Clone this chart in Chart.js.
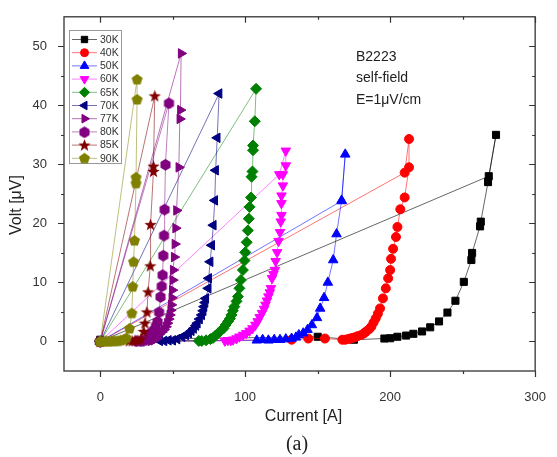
<!DOCTYPE html>
<html>
<head>
<meta charset="utf-8">
<script src="https://cdn.jsdelivr.net/npm/chart.js@4.4.0/dist/chart.umd.min.js"></script>
<style>
  html, body { margin: 0; padding: 0; background: #fff; }
  #wrap { width: 557px; height: 457px; }
</style>
</head>
<body>
<div id="wrap"><canvas id="ivChart" width="557" height="457"></canvas></div>
<script>
// temperatures (legend)
const temps = ['30K', '40K', '50K', '60K', '65K', '70K', '77K', '80K', '85K', '90K'];

// current [A] / voltage [uV] per temperature
const cur30 = [0, 150, 175, 196, 200, 205, 211, 216, 222, 227.6, 233.7, 239.5, 245, 250.8, 256, 256.5, 262, 262.5, 267.5, 273, 268, 0];
const volt30 = [0.3, 0.8, 0.3, 0.5, 0.55, 0.8, 1, 1.3, 1.7, 2.4, 3.4, 4.9, 6.9, 10.1, 13.8, 15, 19.5, 20.3, 27, 35, 28, 0];

const cur40 = [0, 132, 143.5, 155, 167, 169, 171, 172.5, 174, 175.5, 177.5, 180, 182, 183.5, 185.5, 187, 188.5, 190, 191.5, 193, 195, 197, 198.6, 200, 200.6, 202, 204, 205, 207, 210, 213, 213, 210, 0];
const volt40 = [0, 0.3, 0.5, 0.5, 0.3, 0.3, 0.4, 0.5, 0.6, 0.7, 0.9, 1.1, 1.4, 1.7, 2.1, 2.5, 3.2, 3.9, 4.7, 5.6, 7.3, 9, 10.7, 12.1, 14, 15.7, 17.7, 19.4, 22.4, 24.4, 29.5, 34.3, 28.6, 0];

const cur50 = [0, 108, 112, 116, 120, 124, 128, 132, 135, 137, 140, 143, 146, 149.5, 151.7, 154.4, 157, 160.7, 163, 166.5, 169, 166.5, 0];
const volt50 = [0, 0.2, 0.3, 0.2, 0.3, 0.3, 0.4, 0.5, 0.7, 1.1, 1.4, 2, 2.8, 4, 5.6, 7.4, 10, 13.8, 18.2, 23.9, 31.7, 23.8, 0];

const cur60 = [0, 86, 88, 90, 91.6, 94, 96, 98.5, 100.7, 103, 105, 107, 108.6, 110, 111.6, 113, 114, 115, 116, 117, 117.7, 118.5, 119.5, 120.5, 121, 122, 123, 124, 124.5, 125, 125, 125, 126, 126, 128, 128, 123.5, 0];
const volt60 = [0, 0.1, 0.2, 0.2, 0.3, 0.5, 0.8, 1.1, 1.4, 1.8, 2.2, 2.8, 3.4, 4.1, 4.8, 5.5, 6.2, 6.9, 7.6, 8.3, 9, 10.7, 11.4, 12.1, 13.6, 15.1, 17, 18.5, 20.3, 21.4, 23.4, 24.7, 26.4, 28.3, 29.8, 32.3, 28.3, 0];

const cur65 = [0, 68, 70, 73, 76, 77.8, 79.5, 81.4, 83, 85, 86.5, 88.2, 89.5, 90.5, 91.5, 92.5, 94, 95, 96, 97, 98.4, 99.5, 100, 101, 101.8, 102.5, 103, 104, 104.4, 105, 105.4, 105.4, 106.6, 107.5, 0];
const volt65 = [0, 0.1, 0.1, 0.2, 0.4, 0.6, 1, 1.4, 1.8, 2.2, 2.8, 3.4, 3.9, 4.5, 5.2, 5.9, 6.8, 7.6, 9, 10.4, 12.1, 13.7, 15.1, 16.8, 18.8, 20.8, 22.8, 24.4, 27.9, 28.8, 32.4, 33.2, 37.3, 42.8, 0];

const cur70 = [0, 41, 44, 47, 50, 53, 56.5, 59, 61, 62.8, 64.4, 66, 67, 68.5, 70, 71, 71.6, 72.3, 72.8, 74.5, 74.8, 75.8, 76.9, 78, 79, 79.6, 80.7, 82, 0];
const volt70 = [0, 0.1, 0.1, 0.2, 0.2, 0.4, 0.8, 1.1, 1.4, 1.8, 2.2, 2.7, 3.1, 3.8, 4.5, 5.2, 5.9, 6.6, 7.3, 9, 10.7, 13.5, 16.3, 19.7, 23.9, 29, 34.5, 42, 0];

const cur77 = [0, 35, 37, 39, 40.6, 42.5, 44, 45.3, 46.3, 47.2, 48, 48.6, 49, 49.4, 49.7, 50, 50.3, 51, 51.5, 52, 52.6, 54.2, 54.9, 55.3, 55.8, 0];
const volt77 = [0, 0.1, 0.2, 0.5, 1.2, 1.6, 2, 2.5, 3.1, 3.8, 4.5, 5.3, 6.2, 7.4, 8.7, 10.4, 12.1, 14.3, 16.5, 19.2, 22.2, 29.5, 37.7, 39.2, 48.8, 0];

const cur80 = [0, 25, 28, 30, 32, 33.8, 35.5, 37.2, 38.5, 39.5, 40.6, 41.6, 42.4, 43, 43.5, 44, 44.4, 45, 47.4, 0];
const volt80 = [0, 0.1, 0.1, 0.2, 0.4, 1.2, 1.6, 2, 2.7, 3.4, 5, 7.6, 9.4, 11.3, 14.6, 18, 22.4, 30, 40.4, 0];

const cur85 = [0, 20, 22, 24, 26, 28, 30, 30.8, 32.2, 33, 34.5, 34.7, 36.7, 36.7, 37.6, 0];
const volt85 = [0, 0.1, 0.1, 0.2, 0.2, 0.4, 1.7, 3.1, 5, 8.4, 12.8, 19.8, 28.8, 29.7, 41.6, 0];

const cur90 = [0, 2, 4, 6, 8, 10, 12, 14, 16, 18, 20.2, 21.8, 22.4, 23, 23.6, 24.7, 24.7, 25.4, 25.4, 0];
const volt90 = [0, 0, 0.1, 0, 0.1, 0.1, 0.1, 0.2, 0.3, 0.6, 2.2, 4.8, 9.3, 13.5, 17.1, 26.8, 27.8, 41, 44.4, 0];

// axis ticks
const xMajor = [0, 100, 200, 300];
const xMinor = [50, 150, 250];
const yMajor = [0, 10, 20, 30, 40, 50];
const yMinor = [5, 15, 25, 35, 45];

const currents = [cur30, cur40, cur50, cur60, cur65, cur70, cur77, cur80, cur85, cur90];
const volts = [volt30, volt40, volt50, volt60, volt65, volt70, volt77, volt80, volt85, volt90];

// filled shapes chart.js doesn't have
function makeShape(color, kind) {
  const c = document.createElement('canvas');
  c.width = 13; c.height = 13;
  const g = c.getContext('2d');
  g.fillStyle = color;
  g.beginPath();
  const n = kind === 'star' ? 10 : (kind === 'pent' ? 5 : 6);
  for (let k = 0; k < n; k++) {
    const a = -Math.PI / 2 + k * 2 * Math.PI / n;
    const r = kind === 'star' ? (k % 2 ? 2.7 : 6.5) : 5.8;
    g.lineTo(6.5 + r * Math.cos(a), 6.9 + r * Math.sin(a));
  }
  g.closePath();
  g.fill();
  return c;
}

const colors = ['#000000', '#ff0000', '#0000ff', '#ff00ff', '#008000', '#000080', '#800080', '#800080', '#800000', '#808000'];
const lineColors = ['rgba(0,0,0,0.6)', 'rgba(255,0,0,0.55)', 'rgba(0,0,255,0.55)', 'rgba(255,0,255,0.5)', 'rgba(0,128,0,0.5)',
                    'rgba(0,0,128,0.55)', 'rgba(128,0,128,0.55)', 'rgba(128,0,128,0.5)', 'rgba(128,0,0,0.55)', 'rgba(128,128,0,0.5)'];
const styles = ['rect', 'circle', 'triangle', 'triangle', 'rectRot', 'triangle', 'triangle',
                makeShape('#800080', 'hex'), makeShape('#800000', 'star'), makeShape('#808000', 'pent')];
const rotations = [0, 0, 0, 180, 0, 270, 90, 0, 0, 0];
const radii = [5, 4.5, 5.5, 5.5, 5.5, 5.5, 5.5, 5.5, 5.5, 5.5];

const datasets = temps.map((t, i) => ({
  label: t,
  data: currents[i].map((x, k) => ({ x: x, y: volts[i][k] })),
  showLine: true,
  borderColor: lineColors[i],
  borderWidth: 1,
  backgroundColor: colors[i],
  pointBackgroundColor: colors[i],
  pointBorderColor: colors[i],
  pointBorderWidth: 1,
  pointStyle: styles[i],
  pointRotation: rotations[i],
  pointRadius: radii[i],
  order: temps.length - i
}));

const font = "'Liberation Sans', Arial, sans-serif";

const framePlugin = {
  id: 'frame',
  afterDatasetsDraw(chart) {
    const { ctx, chartArea: a, scales } = chart;
    ctx.save();
    ctx.strokeStyle = '#333';
    ctx.lineWidth = 1.3;
    ctx.strokeRect(a.left, a.top, a.right - a.left, a.bottom - a.top);
    ctx.lineWidth = 1.2;
    ctx.beginPath();
    const tick = (vals, len) => {
      vals.forEach(v => {
        const px = Math.round(scales.x.getPixelForValue(v)) + 0.5;
        ctx.moveTo(px, a.bottom); ctx.lineTo(px, a.bottom + len);
        ctx.moveTo(px, a.top); ctx.lineTo(px, a.top + len);
      });
    };
    const ytick = (vals, len) => {
      vals.forEach(v => {
        const py = Math.round(scales.y.getPixelForValue(v)) + 0.5;
        ctx.moveTo(a.left, py); ctx.lineTo(a.left - len, py);
        ctx.moveTo(a.right, py); ctx.lineTo(a.right - len, py);
      });
    };
    tick(xMajor, 6); tick(xMinor, 3);
    ytick(yMajor, 6); ytick(yMinor, 3);
    ctx.stroke();

    // legend box
    ctx.fillStyle = '#fff';
    ctx.strokeStyle = '#999';
    ctx.lineWidth = 1;
    ctx.fillRect(69.5, 30.5, 52, 133);
    ctx.strokeRect(69.5, 30.5, 52, 133);
    chart.data.datasets.forEach((ds, i) => {
      const y = 39.5 + i * 13.2;
      ctx.strokeStyle = ds.borderColor;
      ctx.beginPath();
      ctx.moveTo(72, y); ctx.lineTo(97, y);
      ctx.stroke();
      ctx.fillStyle = ds.pointBackgroundColor;
      ctx.strokeStyle = ds.pointBorderColor;
      Chart.helpers.drawPoint(ctx, { pointStyle: ds.pointStyle, rotation: ds.pointRotation, radius: ds.pointRadius - 0.5, borderWidth: 1 }, 84.5, y);
      ctx.fillStyle = '#333';
      ctx.font = '10.5px ' + font;
      ctx.textAlign = 'left';
      ctx.textBaseline = 'middle';
      ctx.fillText(ds.label, 100, y + 0.5);
    });
    ctx.restore();
  },
  afterDraw(chart) {
    const ctx = chart.ctx;
    ctx.save();
    ctx.fillStyle = '#222';
    ctx.textBaseline = 'middle';
    ctx.textAlign = 'left';
    ctx.font = '14px ' + font;
    ctx.fillText('B2223', 356, 57);
    ctx.fillText('self-field', 356, 78.5);
    ctx.fillText('E=1\u03bcV/cm', 356, 100);
    ctx.textAlign = 'center';
    ctx.font = '16px ' + font;
    ctx.fillText('Current [A]', 303.5, 417);
    ctx.font = '20px "Liberation Serif", "Times New Roman", serif';
    ctx.fillText('(a)', 297, 445);
    ctx.translate(17, 205);
    ctx.rotate(-Math.PI / 2);
    ctx.font = '16px ' + font;
    ctx.fillText('Volt [\u03bcV]', 0, 0);
    ctx.restore();
  }
};

new Chart(document.getElementById('ivChart'), {
  type: 'scatter',
  data: { datasets: datasets },
  options: {
    responsive: false,
    animation: false,
    devicePixelRatio: 1,
    layout: { padding: { top: 13, right: 14, left: 0, bottom: 0 } },
    plugins: {
      legend: { display: false },
      tooltip: { enabled: false }
    },
    scales: {
      x: {
        type: 'linear',
        min: -25,
        max: 300,
        grid: { display: false },
        border: { display: false },
        ticks: { padding: 11, color: '#333', font: { family: font, size: 13 } },
        afterBuildTicks: s => { s.ticks = xMajor.map(v => ({ value: v })); },
        afterFit: s => { s.height = 86; }
      },
      y: {
        type: 'linear',
        min: -5,
        max: 55,
        grid: { display: false },
        border: { display: false },
        ticks: { padding: 9, color: '#333', font: { family: font, size: 13 } },
        afterBuildTicks: s => { s.ticks = yMajor.map(v => ({ value: v })); },
        afterFit: s => { s.width = 64; }
      }
    }
  },
  plugins: [framePlugin]
});
</script>
</body>
</html>
